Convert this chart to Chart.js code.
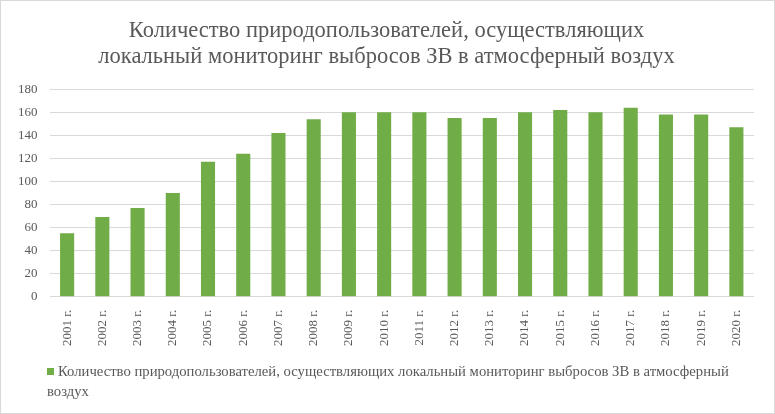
<!DOCTYPE html>
<html>
<head>
<meta charset="utf-8">
<script src="https://cdn.jsdelivr.net/npm/chart.js@4/dist/chart.umd.min.js"></script>
<style>
  html, body { margin: 0; padding: 0; background: #fff; }
  #wrap { position: relative; width: 775px; height: 414px; box-sizing: border-box; border: 1px solid #d9d9d9; }
  #legend {
    position: absolute; left: 46px; top: 360px; width: 700px;
    font-family: "Liberation Serif", "Times New Roman", serif; font-size: 14.7px;
    color: #595959; line-height: 20px;
  }
  #legend .box { display: inline-block; width: 7px; height: 7px; background: #70ad47; margin-right: 4px; vertical-align: 1px; }
</style>
</head>
<body>
<div id="wrap">
  <canvas id="chart" width="773" height="412"></canvas>
  <div id="legend"></div>
</div>
<script>
  const chartTitle = ['Количество природопользователей, осуществляющих', 'локальный мониторинг выбросов ЗВ в атмосферный воздух'];
  const seriesName = 'Количество природопользователей, осуществляющих локальный мониторинг выбросов ЗВ в атмосферный воздух';
  const years = ['2001 г.', '2002 г.', '2003 г.', '2004 г.', '2005 г.', '2006 г.', '2007 г.', '2008 г.', '2009 г.', '2010 г.',
    '2011 г.', '2012 г.', '2013 г.', '2014 г.', '2015 г.', '2016 г.', '2017 г.', '2018 г.', '2019 г.', '2020 г.'];
  const users = [55, 69, 77, 90, 117, 124, 142, 154, 160, 160, 160, 155, 155, 160, 162, 160, 164, 158, 158, 147];

  const barColor = '#70ad47';
  const textColor = '#595959';
  const serif = '"Liberation Serif", "Times New Roman", serif';

  document.getElementById('legend').innerHTML = '<span class="box"></span>' + seriesName;

  const ctx = document.getElementById('chart').getContext('2d');
  new Chart(ctx, {
    type: 'bar',
    data: {
      labels: years,
      datasets: [{
        label: seriesName,
        data: users,
        backgroundColor: barColor,
        barPercentage: 0.4,
        categoryPercentage: 1.0
      }]
    },
    options: {
      responsive: false,
      animation: false,
      // симметричные отступы, чтобы заголовок был по центру
      layout: { padding: { left: 18, right: 20, top: 10, bottom: 62 } },
      plugins: {
        legend: { display: false },
        tooltip: { enabled: false },
        title: {
          display: true,
          text: chartTitle,
          color: textColor,
          font: { family: serif, size: 22.5, weight: 'normal', lineHeight: 1.16 },
          padding: { top: 7, bottom: 19 }
        }
      },
      scales: {
        x: {
          grid: { display: false },
          border: { display: false },
          ticks: {
            color: textColor,
            font: { family: serif, size: 13 },
            maxRotation: 90,
            minRotation: 90,
            autoSkip: false,
            padding: 5
          }
        },
        y: {
          min: 0,
          max: 180,
          grid: { color: '#d9d9d9', drawTicks: false },
          border: { display: false },
          afterFit: (axis) => { axis.width -= 13; },
          ticks: {
            stepSize: 20,
            color: textColor,
            font: { family: serif, size: 13 },
            padding: 12
          }
        }
      }
    }
  });
</script>
</body>
</html>
